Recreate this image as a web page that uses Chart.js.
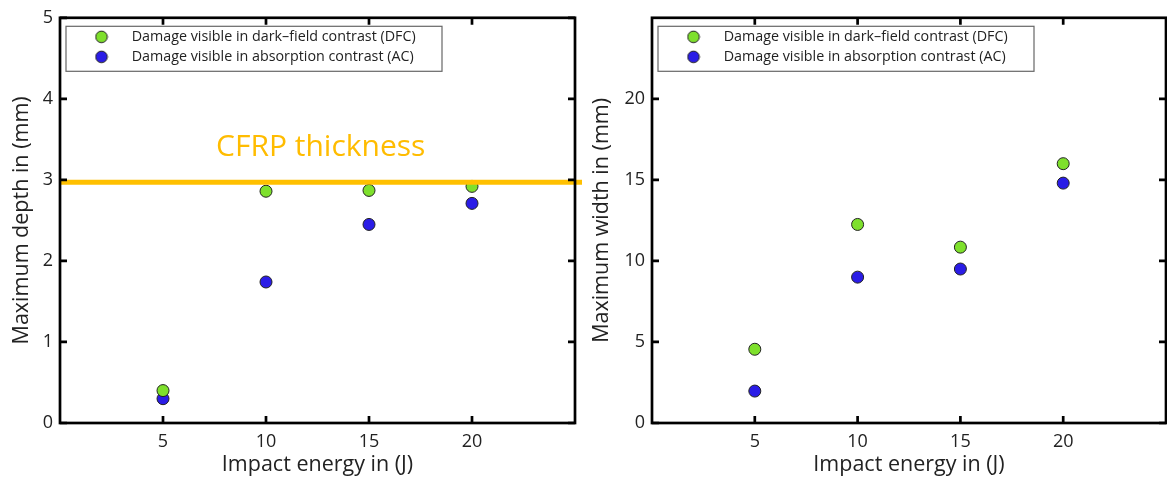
<!DOCTYPE html>
<html>
<head>
<meta charset="utf-8">
<script src="https://cdn.jsdelivr.net/npm/chart.js@4.4.1/dist/chart.umd.min.js"></script>
<style>
  html, body { margin: 0; padding: 0; background: #fff; overflow: hidden; width: 1167px; height: 481px; }
  canvas { position: absolute; top: 0; }
  #depthChart { left: 0; }
  #widthChart { left: 588px; }
</style>
</head>
<body>
<canvas id="depthChart" width="590" height="481"></canvas>
<canvas id="widthChart" width="585" height="481"></canvas>
<script>
let energy = [5, 10, 15, 20];
let depthDFC = [0.40, 2.86, 2.87, 2.92];
let depthAC = [0.30, 1.74, 2.45, 2.71];
let widthDFC = [4.55, 12.25, 10.85, 16.0];
let widthAC = [1.97, 9.0, 9.5, 14.8];
let xTicks = [5, 10, 15, 20];
let depthTicks = [0, 1, 2, 3, 4, 5];
let widthTicks = [0, 5, 10, 15, 20];
let cfrpThickness = 2.97;
let labelDFC = 'Damage visible in dark\u2013field contrast (DFC)';
let labelAC = 'Damage visible in absorption contrast (AC)';

let greenColor = '#7EE02C';
let blueColor = '#2A1CE6';
let family = '"Open Sans", "DejaVu Sans", sans-serif';

Chart.defaults.font.family = family;
Chart.defaults.color = '#222';

// small round marker for the legend, so the gap to the text can be widened
function markerImage(color) {
  let c = document.createElement('canvas');
  c.width = 14; c.height = 14;
  let g = c.getContext('2d');
  g.beginPath();
  g.arc(7, 7, 5.8, 0, Math.PI * 2);
  g.fillStyle = color;
  g.fill();
  g.lineWidth = 1;
  g.strokeStyle = '#222';
  g.stroke();
  return c;
}

function points(ys) {
  return energy.map((e, i) => ({x: e, y: ys[i]}));
}

// box axes with inward ticks on all four sides
let frame = {
  id: 'frame',
  afterDraw(chart) {
    let {ctx, chartArea: a, scales: {x, y}} = chart;
    ctx.save();
    ctx.strokeStyle = '#000';
    ctx.lineWidth = 2.7;
    ctx.strokeRect(a.left, a.top, a.right - a.left, a.bottom - a.top);
    ctx.beginPath();
    x.ticks.forEach(t => {
      let px = x.getPixelForValue(t.value);
      ctx.moveTo(px, a.bottom); ctx.lineTo(px, a.bottom - 7);
      ctx.moveTo(px, a.top); ctx.lineTo(px, a.top + 7);
    });
    y.ticks.forEach(t => {
      let py = y.getPixelForValue(t.value);
      ctx.moveTo(a.left, py); ctx.lineTo(a.left + 7, py);
      ctx.moveTo(a.right, py); ctx.lineTo(a.right - 7, py);
    });
    ctx.stroke();

    // legend border
    ctx.lineWidth = 1.2;
    ctx.strokeStyle = '#666';
    ctx.strokeRect(a.left + 6, a.top + 8.5, 376, 45);
    ctx.restore();
  }
};

// move the legend into the upper left of the plot
let legendShift = {
  id: 'legendShift',
  afterLayout(chart) {
    let lg = chart.legend, a = chart.chartArea;
    lg.left = a.left + 12.8;
    lg.top = a.top + 6.2;
    lg.right = a.right;
    lg.bottom = lg.top + lg.height;
  }
};

let cfrpLine = {
  id: 'cfrpLine',
  afterDatasetsDraw(chart) {
    let {ctx, chartArea: a, scales: {y}} = chart;
    let py = y.getPixelForValue(cfrpThickness);
    ctx.save();
    ctx.strokeStyle = '#FFC000';
    ctx.lineWidth = 5;
    ctx.beginPath();
    ctx.moveTo(a.left, py);
    ctx.lineTo(a.right + 7, py);
    ctx.stroke();
    ctx.fillStyle = '#FFBC00';
    ctx.font = '30px ' + family;
    ctx.textBaseline = 'middle';
    ctx.textAlign = 'left';
    ctx.fillText('CFRP thickness', a.left + 156, py - 35);
    ctx.restore();
  }
};

function makeChart(id, dfc, ac, yMax, yTicks, yTitle, yWidth, yTitlePad, padRight, extra) {
  return new Chart(document.getElementById(id), {
    type: 'scatter',
    data: {
      datasets: [
        {label: labelDFC, data: points(dfc), backgroundColor: greenColor, borderColor: '#222',
         borderWidth: 1, pointRadius: 6, pointHoverRadius: 6},
        {label: labelAC, data: points(ac), backgroundColor: blueColor, borderColor: '#222',
         borderWidth: 1, pointRadius: 6, pointHoverRadius: 6}
      ]
    },
    options: {
      animation: false,
      responsive: false,
      devicePixelRatio: 1,
      events: [],
      layout: {padding: {top: 15, right: padRight, left: 0, bottom: 0}},
      plugins: {
        tooltip: {enabled: false},
        legend: {
          position: 'chartArea',
          align: 'start',
          labels: {
            usePointStyle: true,
            pointStyleWidth: 46,
            boxHeight: 12,
            padding: 5.7,
            color: '#222',
            font: {size: 14.3},
            generateLabels: chart => Chart.defaults.plugins.legend.labels.generateLabels(chart).map(item => {
              item.pointStyle = markerImage(chart.data.datasets[item.datasetIndex].backgroundColor);
              return item;
            })
          }
        }
      },
      scales: {
        x: {
          type: 'linear',
          min: 0,
          max: 25,
          grid: {display: false, drawTicks: false},
          border: {display: false},
          afterBuildTicks: s => { s.ticks = xTicks.map(v => ({value: v})); },
          afterFit: s => { s.height = 58; },
          ticks: {padding: 8, color: '#222', font: {size: 18}},
          title: {display: true, text: 'Impact energy in (J)', color: '#222',
                  font: {size: 21.5}, padding: {top: 0, bottom: 3.1}}
        },
        y: {
          type: 'linear',
          min: 0,
          max: yMax,
          grid: {display: false, drawTicks: false},
          border: {display: false},
          afterBuildTicks: s => { s.ticks = yTicks.map(v => ({value: v})); },
          afterFit: s => { s.width = yWidth; },
          ticks: {padding: 7, color: '#222', font: {size: 18}},
          title: {display: true, text: yTitle, color: '#222',
                  font: {size: 21.5}, padding: {top: yTitlePad, bottom: 0}}
        }
      }
    },
    plugins: [legendShift, frame].concat(extra)
  });
}

let depthChart = makeChart('depthChart', depthDFC, depthAC, 5, depthTicks,
  'Maximum depth in (mm)', 60, 9.1, 15, [cfrpLine]);
let widthChart = makeChart('widthChart', widthDFC, widthAC, 25, widthTicks,
  'Maximum width in (mm)', 64, 1.1, 2, []);
</script>
</body>
</html>
